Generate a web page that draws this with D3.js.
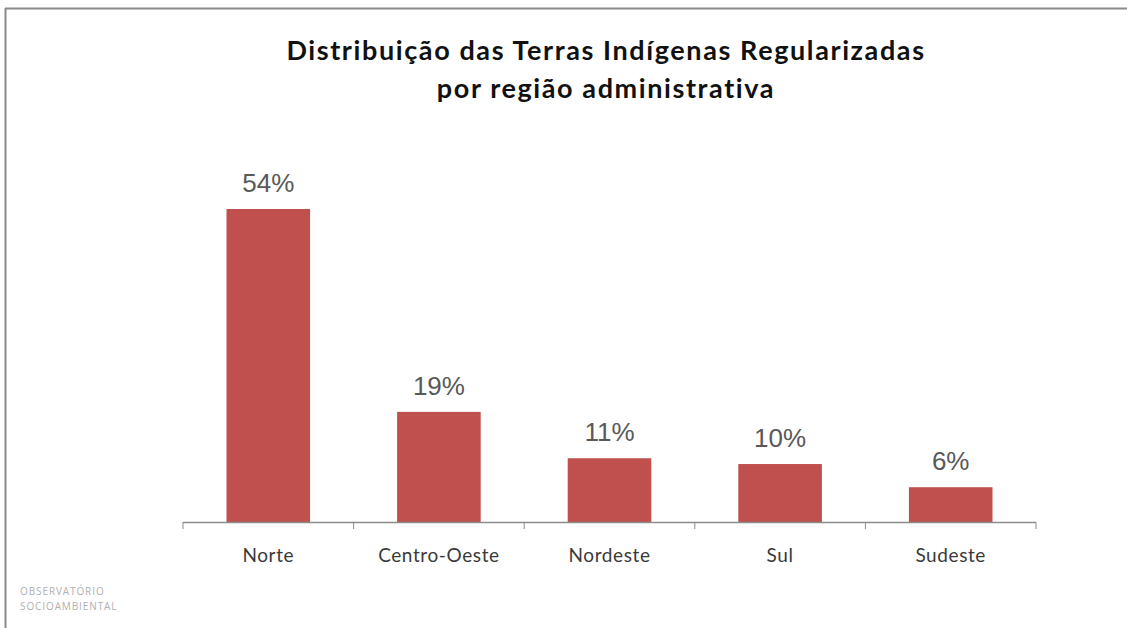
<!DOCTYPE html>
<html>
<head>
<meta charset="utf-8">
<script src="https://cdn.jsdelivr.net/npm/d3@7"></script>
<style>
  body { margin: 0; background: #fff; }
</style>
</head>
<body>
<script>
// Dados
const regioes = ['Norte', 'Centro-Oeste', 'Nordeste', 'Sul', 'Sudeste'];
const percentuais = [54, 19, 11, 10, 6];
const titulo = ['Distribuição das Terras Indígenas Regularizadas', 'por região administrativa'];
const fonte = ['OBSERVATÓRIO', 'SOCIOAMBIENTAL'];

const WIDTH = 1127, HEIGHT = 628;
const margin = {top: 209, right: 91, bottom: 106, left: 183};
const width = WIDTH - margin.left - margin.right,
    height = HEIGHT - margin.top - margin.bottom;

const svg = d3.select('body')
    .append('svg')
        .attr('width', WIDTH)
        .attr('height', HEIGHT);

// moldura da imagem original
svg.append('line')
    .attr('x1', 5).attr('x2', WIDTH).attr('y1', 8.5).attr('y2', 8.5)
    .attr('stroke', '#8a8a8a').attr('stroke-width', 2);
svg.append('line')
    .attr('x1', 5.5).attr('x2', 5.5).attr('y1', 8).attr('y2', HEIGHT)
    .attr('stroke', '#8a8a8a').attr('stroke-width', 2);

const g = svg.append('g')
    .attr('transform', `translate(${margin.left},${margin.top})`);

const xScale = d3.scaleBand()
    .domain(regioes)
    .range([0, width])
    .paddingInner(0.51)
    .paddingOuter(0.255);

const yScale = d3.scaleLinear()
    .domain([0, d3.max(percentuais)])
    .range([height, 0]);

const data = regioes.map((r, i) => ({regiao: r, valor: percentuais[i]}));

g.selectAll('.bar')
    .data(data)
    .enter().append('rect')
        .attr('class', 'bar')
        .attr('x', d => xScale(d.regiao))
        .attr('y', d => yScale(d.valor))
        .attr('width', xScale.bandwidth())
        .attr('height', d => yScale(0) - yScale(d.valor))
        .attr('fill', '#c0504d');

// rótulos de valor
g.selectAll('.valor')
    .data(data)
    .enter().append('text')
        .attr('class', 'valor')
        .attr('x', d => xScale(d.regiao) + xScale.bandwidth() / 2)
        .attr('y', d => yScale(d.valor) - 17)
        .attr('text-anchor', 'middle')
        .attr('fill', '#595959')
        .style('font', '26px "Liberation Sans", Arial, sans-serif')
        .text(d => d.valor + '%');

// eixo X com marcas entre as categorias
const eixo = g.append('g')
    .attr('class', 'axis axis--x')
    .attr('transform', `translate(0,${height})`);

eixo.append('line')
    .attr('x1', 0).attr('x2', width)
    .attr('y1', 0.5).attr('y2', 0.5)
    .attr('stroke', '#8c8c8c').attr('stroke-width', 1.5);

const marcas = d3.range(regioes.length + 1).map(i => i * width / regioes.length);
eixo.selectAll('.tick')
    .data(marcas)
    .enter().append('line')
        .attr('class', 'tick')
        .attr('x1', d => d).attr('x2', d => d)
        .attr('y1', 0).attr('y2', 7)
        .attr('stroke', '#8c8c8c');

eixo.selectAll('.rotulo')
    .data(regioes)
    .enter().append('text')
        .attr('class', 'rotulo')
        .attr('x', d => xScale(d) + xScale.bandwidth() / 2)
        .attr('y', 40)
        .attr('text-anchor', 'middle')
        .attr('fill', '#3a3a3a')
        .style('font', '19px Lato, "Open Sans", sans-serif')
        .style('letter-spacing', '0.6px')
        .text(d => d);

// título
svg.selectAll('.titulo')
    .data(titulo)
    .enter().append('text')
        .attr('class', 'titulo')
        .attr('x', 606)
        .attr('y', (d, i) => 60 + i * 38)
        .attr('text-anchor', 'middle')
        .attr('fill', '#111')
        .style('font', 'bold 27px Lato, "Open Sans", sans-serif')
        .style('letter-spacing', '1.6px')
        .text(d => d);

// fonte
svg.selectAll('.fonte')
    .data(fonte)
    .enter().append('text')
        .attr('class', 'fonte')
        .attr('x', 20)
        .attr('y', (d, i) => 595 + i * 15)
        .attr('fill', '#b0b0b0')
        .style('font', '10px "Open Sans", sans-serif')
        .style('letter-spacing', '0.9px')
        .text(d => d);
</script>
</body>
</html>
